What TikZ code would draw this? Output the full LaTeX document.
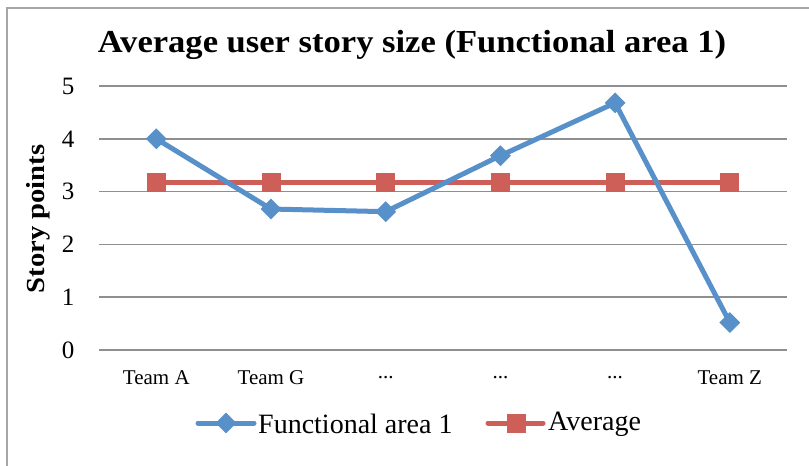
\documentclass[tikz,border=0pt]{standalone}
\usepackage{fontspec}
\setmainfont{Liberation Serif}
\usetikzlibrary{shapes.geometric}
\definecolor{serblue}{HTML}{5890CA}
\definecolor{serred}{HTML}{CD5E58}
\definecolor{gridgray}{HTML}{8F8F8F}
\definecolor{framegray}{HTML}{A6A6A6}
\begin{document}
\begin{tikzpicture}[x=1pt,y=-1pt,
  gridline/.style={draw=gridgray, line width=1.6pt},
  bluemark/.style={diamond, fill=serblue, inner sep=0pt, minimum width=21pt, minimum height=21pt},
  redmark/.style={rectangle, fill=serred, inner sep=0pt, minimum size=19pt},
  blueline/.style={draw=serblue, line width=5pt, line join=round},
  redline/.style={draw=serred, line width=5pt},
  ticklbl/.style={font=\fontsize{25}{25}\selectfont, anchor=center},
  catlbl/.style={font=\fontsize{21}{21}\selectfont, anchor=center},
  leglbl/.style={font=\fontsize{28}{28}\selectfont, anchor=west, inner sep=0pt}]
\useasboundingbox (0,0) rectangle (809,466);
\clip (0,0) rectangle (809,466);
\fill[white] (0,0) rectangle (809,466);
\draw[framegray, line width=1.5pt] (7,8) rectangle (840,500);
% title
\node[font=\bfseries\fontsize{32}{32}\selectfont] (title) at (412,45) {\scalebox{1.08}[1]{Average user story size (Functional area 1)}};
% gridlines and tick labels
\foreach \v in {0,1,2,3,4,5} {
  \draw[gridline] (99,{350-\v*52.8}) -- (787,{350-\v*52.8});
  \node[ticklbl] (tick\v) at (68,{350-\v*52.8}) {\v};
}
% axis title
\node[font=\bfseries\fontsize{26}{26}\selectfont, rotate=90] (ytitle) at (38,219) {\scalebox{1.1}[1]{Story points}};
% categories
\node[catlbl] (cat0) at (156.3,378) {Team A};
\node[catlbl] (cat1) at (271.0,378) {Team G};
\node[catlbl] (cat2) at (385.7,378) {...};
\node[catlbl] (cat3) at (500.4,378) {...};
\node[catlbl] (cat4) at (615.1,378) {...};
\node[catlbl] (cat5) at (729.8,378) {Team Z};
% average series
\foreach \i in {0,1,2,3,4,5} {
  \coordinate (r\i) at ({156.3+\i*114.7},{350-3.17*52.8});
}
\draw[redline] (r0) -- (r1) -- (r2) -- (r3) -- (r4) -- (r5);
\foreach \i in {0,1,2,3,4,5} { \node[redmark] (rm\i) at (r\i) {}; }
% functional area series
\foreach \i/\v in {0/4,1/2.67,2/2.62,3/3.68,4/4.68,5/0.52} {
  \coordinate (b\i) at ({156.3+\i*114.7},{350-\v*52.8});
}
\draw[blueline] (b0) -- (b1) -- (b2) -- (b3) -- (b4) -- (b5);
\foreach \i in {0,1,2,3,4,5} { \node[bluemark] (bm\i) at (b\i) {}; }
% legend
\coordinate (lb0) at (198,423);
\coordinate (lb1) at (254,423);
\draw[blueline, line cap=round] (lb0) -- (lb1);
\node[bluemark] (lbm) at (226,423) {};
\node[leglbl] (lbt) at (258,424) {Functional area 1};
\coordinate (lr0) at (488,423);
\coordinate (lr1) at (543,423);
\draw[redline, line cap=round] (lr0) -- (lr1);
\node[redmark] (lrm) at (516,423) {};
\node[leglbl] (lrt) at (548,424) {Average};
\end{tikzpicture}
\end{document}
